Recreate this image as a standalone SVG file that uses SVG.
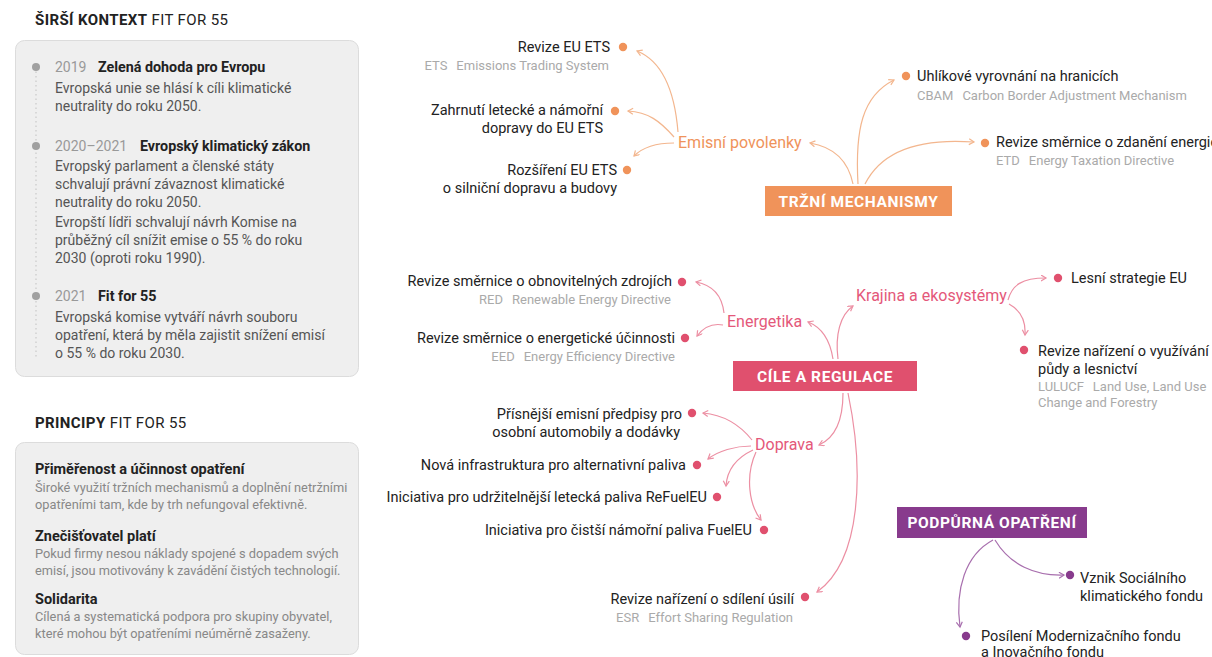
<svg xmlns="http://www.w3.org/2000/svg" width="1212" height="657" viewBox="0 0 1212 657">
<style>
text{font-family:Roboto,"Liberation Sans",sans-serif}
.h{font-size:15px;fill:#222;letter-spacing:0.4px}
.yr{font-size:14px;fill:#999}
.hb{font-size:14.3px;fill:#222;font-weight:700}
.pbh{font-size:14.5px;fill:#222;font-weight:700}
.b{font-size:14px;fill:#555}
.pb{font-size:12.8px;fill:#888}
.m{font-size:14.5px;fill:#222}
.s{font-size:13px;fill:#aaa}
.lo{font-size:16px;fill:#ef935b}
.lr{font-size:16px;fill:#e4587a}
.bt{font-size:15.5px;font-weight:700;fill:#fff;letter-spacing:0.6px}
.co{stroke:#f3b68e;fill:none;stroke-width:1.2;marker-end:url(#ao)}
.cr{stroke:#ec8fa3;fill:none;stroke-width:1.2;marker-end:url(#ar)}
.cp{stroke:#a86fae;fill:none;stroke-width:1.2;marker-end:url(#ap)}
.do{fill:#f0935a}
.dr{fill:#e0506e}
.dp{fill:#883b8d}
.panel{fill:#efefef;stroke:#dcdcdc;stroke-width:1}
</style>
<defs>
<marker id="ao" markerWidth="8" markerHeight="8" refX="5.5" refY="3.5" orient="auto" markerUnits="userSpaceOnUse"><path d="M0.5,0.5 L5.5,3.5 L0.5,6.5" fill="none" stroke="#f3b68e" stroke-width="1.2"/></marker>
<marker id="ar" markerWidth="8" markerHeight="8" refX="5.5" refY="3.5" orient="auto" markerUnits="userSpaceOnUse"><path d="M0.5,0.5 L5.5,3.5 L0.5,6.5" fill="none" stroke="#ec8fa3" stroke-width="1.2"/></marker>
<marker id="ap" markerWidth="8" markerHeight="8" refX="5.5" refY="3.5" orient="auto" markerUnits="userSpaceOnUse"><path d="M0.5,0.5 L5.5,3.5 L0.5,6.5" fill="none" stroke="#a86fae" stroke-width="1.2"/></marker>
</defs>
<rect width="1212" height="657" fill="#fff"/>

<g id="context-panel">
<text class="h" x="35" y="25"><tspan font-weight="700">ŠIRŠÍ KONTEXT</tspan> FIT FOR 55</text>
<rect class="panel" x="15.5" y="40.5" width="343" height="336" rx="9"/>
<line x1="36" y1="67" x2="36" y2="358" stroke="#c8c8c8" stroke-width="1.2" stroke-dasharray="1.5 3"/>
<circle cx="36" cy="67" r="4" fill="#a0a0a0"/>
<circle cx="36" cy="146" r="4" fill="#a0a0a0"/>
<circle cx="36" cy="296" r="4" fill="#a0a0a0"/>
<text class="yr" x="55" y="72">2019</text><text class="hb" x="98" y="72">Zelená dohoda pro Evropu</text>
<text class="b" x="55" y="93">Evropská unie se hlásí k cíli klimatické</text>
<text class="b" x="55" y="111">neutrality do roku 2050.</text>
<text class="yr" x="55" y="151">2020–2021</text><text class="hb" x="140" y="151">Evropský klimatický zákon</text>
<text class="b" x="55" y="171">Evropský parlament a členské státy</text>
<text class="b" x="55" y="189">schvalují právní závaznost klimatické</text>
<text class="b" x="55" y="207">neutrality do roku 2050.</text>
<text class="b" x="55" y="227">Evropští lídři schvalují návrh Komise na</text>
<text class="b" x="55" y="245">průběžný cíl snížit emise o 55 % do roku</text>
<text class="b" x="55" y="263">2030 (oproti roku 1990).</text>
<text class="yr" x="55" y="301">2021</text><text class="hb" x="98" y="301">Fit for 55</text>
<text class="b" x="55" y="322">Evropská komise vytváří návrh souboru</text>
<text class="b" x="55" y="340">opatření, která by měla zajistit snížení emisí</text>
<text class="b" x="55" y="358">o 55 % do roku 2030.</text>
</g>

<g id="principles-panel">
<text class="h" x="35" y="428"><tspan font-weight="700">PRINCIPY</tspan> FIT FOR 55</text>
<rect class="panel" x="15.5" y="442.5" width="343" height="212" rx="9"/>
<text class="pbh" x="35" y="474">Přiměřenost a účinnost opatření</text>
<text class="pb" x="35" y="492">Široké využití tržních mechanismů a doplnění netržními</text>
<text class="pb" x="35" y="509">opatřeními tam, kde by trh nefungoval efektivně.</text>
<text class="pbh" x="35" y="541">Znečišťovatel platí</text>
<text class="pb" x="35" y="558">Pokud firmy nesou náklady spojené s dopadem svých</text>
<text class="pb" x="35" y="575">emisí, jsou motivovány k zavádění čistých technologií.</text>
<text class="pbh" x="35" y="604">Solidarita</text>
<text class="pb" x="35" y="621">Cílená a systematická podpora pro skupiny obyvatel,</text>
<text class="pb" x="35" y="638">které mohou být opatřeními neúměrně zasaženy.</text>
</g>

<g id="connectors">
<path class="co" d="M853 184 C848 160 834 147 810 143"/>
<path class="co" d="M858 184 C855 130 862 96 894 80"/>
<path class="co" d="M865 184 C882 150 920 138 974 142"/>
<path class="co" d="M678 132 C675 95 664 62 637 51"/>
<path class="co" d="M674 137 C660 121 648 112 628 111"/>
<path class="co" d="M674 143 C656 143 642 148 634 156"/>
<path class="cr" d="M833 359 C830 340 821 327 808 322"/>
<path class="cr" d="M838 359 C835 335 840 315 853 306"/>
<path class="cr" d="M843 393 C843 420 835 438 819 445"/>
<path class="cr" d="M848 393 C864 470 862 560 817 592"/>
<path class="cr" d="M724 313 C722 295 712 285 696 282"/>
<path class="cr" d="M723 325 C712 323 703 328 697 336"/>
<path class="cr" d="M1008 300 C1012 285 1022 278 1046 278"/>
<path class="cr" d="M1009 304 C1020 310 1026 320 1025 335"/>
<path class="cr" d="M752 440 C740 425 725 415 703 413"/>
<path class="cr" d="M751 446 C735 446 718 451 708 459"/>
<path class="cr" d="M753 450 C736 458 727 470 726 486"/>
<path class="cr" d="M756 452 C745 476 749 505 761 520"/>
<path class="cp" d="M995 540 C1010 565 1035 576 1064 575"/>
<path class="cp" d="M993 540 C965 555 955 590 960 627"/>
</g>

<g id="trzni-mechanismy">
<rect x="765" y="186" width="187" height="30" fill="#f0935a"/>
<text class="bt" x="858.5" y="207" text-anchor="middle">TRŽNÍ MECHANISMY</text>
</g>
<g id="emisni-povolenky"><text class="lo" x="678" y="148">Emisní povolenky</text></g>
<g id="revize-eu-ets">
<text class="m" x="610" y="52" text-anchor="end">Revize EU ETS</text><circle class="do" cx="623" cy="47" r="4.2"/>
<text class="s" x="609" y="70" text-anchor="end">ETS<tspan dx="9">Emissions Trading System</tspan></text>
</g>
<g id="zahrnuti">
<text class="m" x="603" y="115" text-anchor="end">Zahrnutí letecké a námořní</text><circle class="do" cx="615" cy="111" r="4.2"/>
<text class="m" x="603" y="133" text-anchor="end">dopravy do EU ETS</text>
</g>
<g id="rozsireni">
<text class="m" x="617" y="175" text-anchor="end">Rozšíření EU ETS</text><circle class="do" cx="627" cy="170" r="4.2"/>
<text class="m" x="617" y="193" text-anchor="end">o silniční dopravu a budovy</text>
</g>
<g id="cbam">
<circle class="do" cx="906" cy="76" r="4.2"/><text class="m" x="917" y="81">Uhlíkové vyrovnání na hranicích</text>
<text class="s" x="917" y="100">CBAM<tspan dx="9">Carbon Border Adjustment Mechanism</tspan></text>
</g>
<g id="etd">
<circle class="do" cx="985" cy="143" r="4.2"/><text class="m" x="996" y="147">Revize směrnice o zdanění energie</text>
<text class="s" x="996" y="165">ETD<tspan dx="9">Energy Taxation Directive</tspan></text>
</g>

<g id="cile-a-regulace">
<rect x="733" y="361" width="184" height="30" fill="#e0506e"/>
<text class="bt" x="825" y="382" text-anchor="middle">CÍLE A REGULACE</text>
</g>
<g id="energetika"><text class="lr" x="727" y="327">Energetika</text></g>
<g id="krajina"><text class="lr" x="856" y="301">Krajina a ekosystémy</text></g>
<g id="doprava"><text class="lr" x="755" y="450">Doprava</text></g>
<g id="red">
<text class="m" x="672" y="286" text-anchor="end">Revize směrnice o obnovitelných zdrojích</text><circle class="dr" cx="682" cy="282" r="4.2"/>
<text class="s" x="671" y="304" text-anchor="end">RED<tspan dx="9">Renewable Energy Directive</tspan></text>
</g>
<g id="eed">
<text class="m" x="675" y="343" text-anchor="end">Revize směrnice o energetické účinnosti</text><circle class="dr" cx="685" cy="338" r="4.2"/>
<text class="s" x="675" y="361" text-anchor="end">EED<tspan dx="9">Energy Efficiency Directive</tspan></text>
</g>
<g id="lesni">
<circle class="dr" cx="1058" cy="278" r="4.2"/><text class="m" x="1071" y="283">Lesní strategie EU</text>
</g>
<g id="lulucf">
<circle class="dr" cx="1024" cy="350" r="4.2"/>
<text class="m" x="1038" y="356">Revize nařízení o využívání</text>
<text class="m" x="1038" y="374">půdy a lesnictví</text>
<text class="s" x="1038" y="391">LULUCF<tspan dx="9">Land Use, Land Use</tspan></text>
<text class="s" x="1038" y="407">Change and Forestry</text>
</g>
<g id="automobily">
<text class="m" x="682" y="419" text-anchor="end">Přísnější emisní předpisy pro</text><circle class="dr" cx="692" cy="413" r="4.2"/>
<text class="m" x="680" y="437" text-anchor="end">osobní automobily a dodávky</text>
</g>
<g id="infrastruktura">
<text class="m" x="686" y="470" text-anchor="end">Nová infrastruktura pro alternativní paliva</text><circle class="dr" cx="697" cy="465" r="4.2"/>
</g>
<g id="refueleu">
<text class="m" x="707" y="502" text-anchor="end">Iniciativa pro udržitelnější letecká paliva ReFuelEU</text><circle class="dr" cx="717" cy="497" r="4.2"/>
</g>
<g id="fueleu">
<text class="m" x="752" y="535" text-anchor="end">Iniciativa pro čistší námořní paliva FuelEU</text><circle class="dr" cx="764" cy="530" r="4.2"/>
</g>
<g id="esr">
<text class="m" x="794" y="604" text-anchor="end">Revize nařízení o sdílení úsilí</text><circle class="dr" cx="805" cy="597" r="4.2"/>
<text class="s" x="793" y="622" text-anchor="end">ESR<tspan dx="9">Effort Sharing Regulation</tspan></text>
</g>

<g id="podpurna-opatreni">
<rect x="897" y="507" width="190" height="31" fill="#883b8d"/>
<text class="bt" x="992" y="528" text-anchor="middle">PODPŮRNÁ OPATŘENÍ</text>
</g>
<g id="socialni-fond">
<circle class="dp" cx="1070" cy="575" r="4.2"/>
<text class="m" x="1080" y="583">Vznik Sociálního</text>
<text class="m" x="1080" y="601">klimatického fondu</text>
</g>
<g id="modernizacni-fond">
<circle class="dp" cx="966" cy="636" r="4.2"/>
<text class="m" x="981" y="641">Posílení Modernizačního fondu</text>
<text class="m" x="981" y="657">a Inovačního fondu</text>
</g>
</svg>
